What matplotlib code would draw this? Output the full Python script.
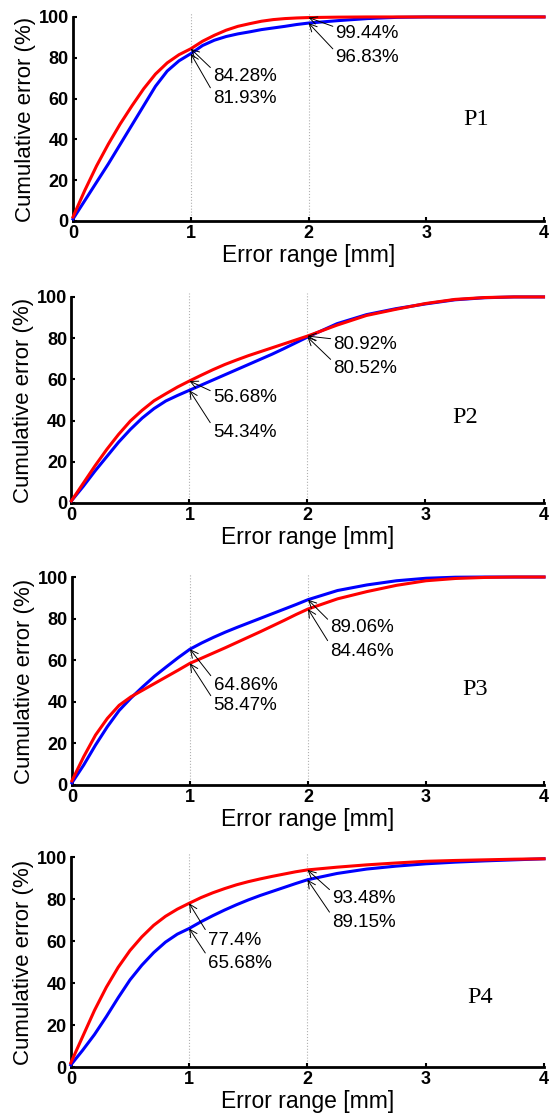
import numpy as np
import matplotlib.pyplot as plt

# error range grid [mm]
err = [0, 0.1, 0.2, 0.3, 0.4, 0.5, 0.6, 0.7, 0.8, 0.9, 1.0,
       1.1, 1.2, 1.3, 1.4, 1.5, 1.6, 1.7, 1.8, 1.9, 2.0,
       2.25, 2.5, 2.75, 3.0, 3.25, 3.5, 3.75, 4.0]

p1_red = [2, 15, 27, 37.7, 47.5, 56.4, 64.8, 72, 77.5, 81.5, 84.4,
          88.1, 91, 93.5, 95.4, 96.7, 97.9, 98.7, 99.2, 99.5, 99.7,
          99.9, 100, 100, 100, 100, 100, 100, 100]
p1_blue = [1, 10, 19, 28, 37.5, 47, 56.5, 66, 73.5, 78.5, 82,
           86, 88.6, 90.4, 91.7, 92.7, 93.8, 94.6, 95.4, 96.3, 97,
           98.2, 99.2, 99.8, 100, 100, 100, 100, 100]

p2_red = [1, 9.5, 18, 26, 33.3, 39.8, 45, 49.6, 53, 56.3, 59.2,
          62, 64.7, 67.2, 69.4, 71.5, 73.4, 75.3, 77.2, 79.1, 81,
          86.3, 91, 94, 96.8, 98.8, 99.7, 100, 100]
p2_blue = [1, 8, 15.5, 22.5, 29.5, 35.7, 41.2, 45.8, 49.5, 52.2, 54.7,
           57.2, 59.7, 62.2, 64.7, 67.2, 69.7, 72.2, 74.9, 77.7, 80.5,
           87, 91.4, 94.3, 96.6, 98.6, 99.6, 100, 100]

p3_red = [2, 13.6, 24, 32, 38.3, 42.4, 45.6, 48.8, 52, 55.2, 58.5,
          61, 63.5, 66, 68.6, 71.2, 73.8, 76.5, 79.2, 82, 84.6,
          89.5, 93, 96, 98.2, 99.3, 99.8, 100, 100]
p3_blue = [1, 9.6, 19.2, 28, 35.8, 41.8, 47.2, 52.3, 56.8, 61.2, 65.3,
           68.3, 71, 73.5, 75.8, 78, 80.2, 82.4, 84.6, 86.8, 89.1,
           93.5, 96.2, 98.2, 99.4, 99.9, 100, 100, 100]

p4_red = [2, 14.5, 27, 38, 47.5, 55.5, 62, 67.5, 71.8, 75.2, 78,
          80.7, 83, 85, 86.8, 88.3, 89.6, 90.8, 91.9, 93, 93.9,
          95.2, 96.3, 97.2, 98, 98.4, 98.7, 99, 99.2]
p4_blue = [1, 8, 15.5, 24, 33, 41.5, 48.5, 54.5, 59.5, 63.3, 66,
           69.2, 72.1, 74.8, 77.3, 79.6, 81.7, 83.6, 85.5, 87.4, 89.2,
           92.2, 94.3, 95.7, 96.8, 97.6, 98.2, 98.7, 99.2]

names = ['P1', 'P2', 'P3', 'P4']
reds = [p1_red, p2_red, p3_red, p4_red]
blues = [p1_blue, p2_blue, p3_blue, p4_blue]

# labels at 1 mm and 2 mm (upper curve first)
labels_1mm = [('84.28%', '81.93%'), ('56.68%', '54.34%'), ('64.86%', '58.47%'), ('77.4%', '65.68%')]
labels_2mm = [('99.44%', '96.83%'), ('80.92%', '80.52%'), ('89.06%', '84.46%'), ('93.48%', '89.15%')]

# text anchor positions (x, y_upper, y_lower) in data units
txt_1mm = [(1.19, 71, 60), (1.2, 51, 34), (1.2, 48, 38), (1.16, 60.5, 49.5)]
txt_2mm = [(2.23, 92, 80), (2.22, 76.7, 65.5), (2.19, 75.5, 64.4), (2.21, 80.5, 69)]
tag_pos = [(3.31, 49.5), (3.23, 41.7), (3.31, 45.7), (3.35, 33)]

boxes = [(0.133, 0.8018, 0.858, 0.183),
         (0.130, 0.5489, 0.860, 0.1848),
         (0.131, 0.2960, 0.860, 0.1865),
         (0.129, 0.0430, 0.862, 0.1883)]

plt.rcParams['font.family'] = ['Liberation Sans', 'DejaVu Sans']
fig = plt.figure(figsize=(5.49, 11.15), dpi=100)

for k in range(4):
    ax = fig.add_axes(boxes[k])
    x = np.array(err)
    r = np.array(reds[k]); b = np.array(blues[k])
    for xv in [1, 2]:
        ax.plot([xv, xv], [0, 102], color='#b0b0b0', lw=0.8, ls=':', clip_on=False, zorder=1)
    ax.plot(x, b, color='#0000ff', lw=2.2, clip_on=False, zorder=3)
    ax.plot(x, r, color='#ff0000', lw=2.2, clip_on=False, zorder=4)

    for xv, labs, tp in [(1, labels_1mm[k], txt_1mm[k]), (2, labels_2mm[k], txt_2mm[k])]:
        rv = np.interp(xv, x, r); bv = np.interp(xv, x, b)
        hi, lo = max(rv, bv), min(rv, bv)
        for lab, yv, ty in [(labs[0], hi, tp[1]), (labs[1], lo, tp[2])]:
            ax.annotate(lab, xy=(xv, yv), xytext=(tp[0], ty), fontsize=13.5,
                        ha='left', va='center', zorder=5,
                        arrowprops=dict(arrowstyle='->', color='black', lw=0.7,
                                        relpos=(0, 0.85), shrinkA=0, shrinkB=0))

    ax.text(tag_pos[k][0], tag_pos[k][1], names[k], fontsize=17.5,
            family='Liberation Serif', va='center', ha='left')

    ax.set_xlim(0, 4); ax.set_ylim(0, 100)
    ax.set_xticks([0, 1, 2, 3, 4]); ax.set_yticks([0, 20, 40, 60, 80, 100])
    ax.spines['top'].set_visible(False); ax.spines['right'].set_visible(False)
    ax.spines['left'].set_linewidth(2); ax.spines['bottom'].set_linewidth(2)
    ax.tick_params(direction='in', length=3, width=1.5, labelsize=13, pad=3)
    for t in ax.get_xticklabels() + ax.get_yticklabels():
        t.set_fontweight('bold')
    ax.set_xlabel('Error range [mm]', fontsize=16.5, labelpad=1)
    ax.set_ylabel('Cumulative error (%)', fontsize=16, labelpad=2)

fig.savefig('out.png', dpi=100)
